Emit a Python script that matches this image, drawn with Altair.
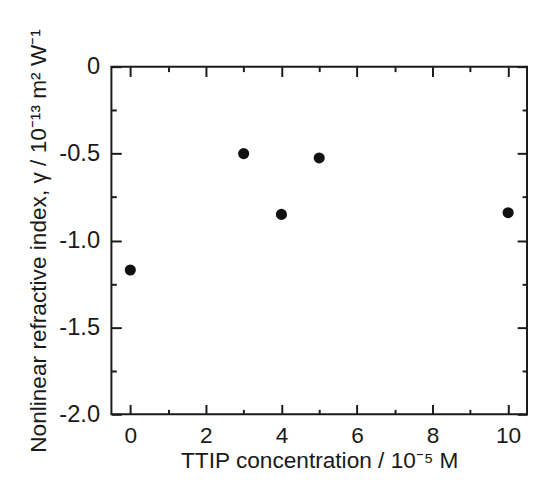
import altair as alt
import pandas as pd

# ---- data ----
ttip = [0, 3, 4, 5, 10]
gamma = [-1.17, -0.50, -0.85, -0.525, -0.84]

x_major = [0, 2, 4, 6, 8, 10]
x_minor = [1, 3, 5, 7, 9]
y_major = [0, -0.5, -1.0, -1.5, -2.0]
y_minor = [-0.25, -0.75, -1.25, -1.75]

x_title = "TTIP concentration / 10⁻⁵ M"
y_title = "Nonlinear refractive index, γ / 10⁻¹³ m² W⁻¹"

df = pd.DataFrame({"x": ttip, "y": gamma})

FONT = "Liberation Sans"
INK = "#1a1a1a"

xs = alt.Scale(domain=[-0.5, 10.5], nice=False, zero=False)
ys = alt.Scale(domain=[-2.0, 0.0], nice=False, zero=False)


def axis(orient, values, size, **kw):
    return alt.Axis(orient=orient, values=values, tickSize=size, offset=-size,
                    domain=False, grid=False, tickColor=INK, tickWidth=2,
                    labelFlush=False, labelOverlap=False, **kw)


base = alt.Chart(df)

pts = base.mark_circle(size=127, color="#111111", opacity=1).encode(
    x=alt.X("x:Q", scale=xs,
            axis=axis("bottom", x_major, 10, labels=True, title=x_title,
                      labelPadding=11, labelFontSize=23, titlePadding=2)),
    y=alt.Y("y:Q", scale=ys,
            axis=axis("left", y_major, 10, labels=True, title=y_title,
                      labelPadding=12, titlePadding=9,
                      labelExpr="datum.value == 0 ? '0' : replace(format(datum.value, '.1f'), '\u2212', '-')")),
)

minor_bl = base.mark_circle(opacity=0).encode(
    x=alt.X("x:Q", scale=xs, axis=axis("bottom", x_minor, 5, labels=False, title=None)),
    y=alt.Y("y:Q", scale=ys, axis=axis("left", y_minor, 5, labels=False, title=None)),
)

major_tr = base.mark_circle(opacity=0).encode(
    x=alt.X("x:Q", scale=xs, axis=axis("top", x_major, 10, labels=False, title=None)),
    y=alt.Y("y:Q", scale=ys, axis=axis("right", y_major, 10, labels=False, title=None)),
)

minor_tr = base.mark_circle(opacity=0).encode(
    x=alt.X("x:Q", scale=xs, axis=axis("top", x_minor, 5, labels=False, title=None)),
    y=alt.Y("y:Q", scale=ys, axis=axis("right", y_minor, 5, labels=False, title=None)),
)

chart = (
    alt.layer(pts, minor_bl, major_tr, minor_tr)
    .resolve_axis(x="independent", y="independent")
    .properties(
        width=422, height=353,
        autosize=alt.AutoSizeParams(type="none"),
        padding={"left": 105, "top": 56, "right": 1, "bottom": 55},
        background="white",
    )
    .configure_view(stroke=INK, strokeWidth=2)
    .configure_axis(
        labelFont=FONT, labelFontSize=24, labelColor=INK,
        titleFont=FONT, titleFontSize=23, titleFontWeight="normal", titleColor=INK,
    )
)

chart.save("out.html", embed_options={"renderer": "svg", "actions": False})
